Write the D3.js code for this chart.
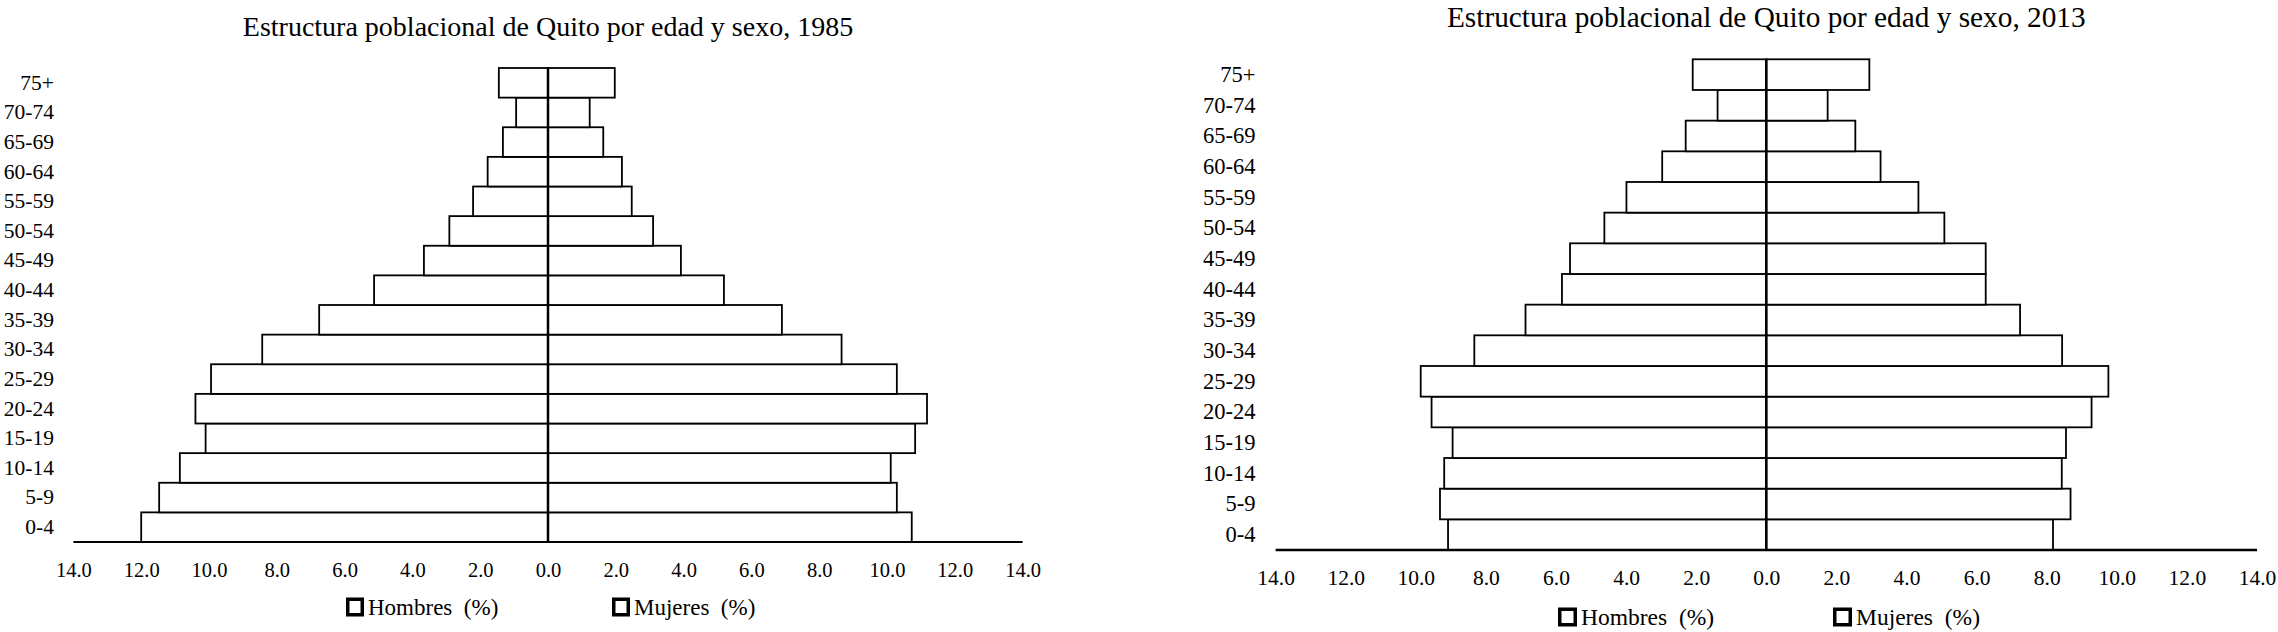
<!DOCTYPE html>
<html>
<head>
<meta charset="utf-8">
<script src="https://cdn.jsdelivr.net/npm/d3@7"></script>
<style>
  body { margin: 0; background: #fff; }
</style>
</head>
<body>
<svg class="pyramids"></svg>
<script>
// age groups, bottom to top
const ages = ["0-4","5-9","10-14","15-19","20-24","25-29","30-34","35-39",
              "40-44","45-49","50-54","55-59","60-64","65-69","70-74","75+"];

// percentages
const hombres1985 = [12.00, 11.47, 10.86, 10.10, 10.40, 9.94, 8.43, 6.75,
                     5.13, 3.66, 2.91, 2.21, 1.78, 1.33, 0.94, 1.45];
const mujeres1985 = [10.73, 10.29, 10.11, 10.83, 11.18, 10.29, 8.66, 6.90,
                     5.19, 3.92, 3.10, 2.47, 2.18, 1.63, 1.23, 1.97];
const hombres2013 = [9.08, 9.31, 9.19, 8.95, 9.55, 9.86, 8.33, 6.87,
                     5.83, 5.60, 4.62, 3.99, 2.97, 2.30, 1.39, 2.10];
const mujeres2013 = [8.18, 8.68, 8.43, 8.55, 9.28, 9.76, 8.44, 7.24,
                     6.26, 6.26, 5.08, 4.34, 3.26, 2.54, 1.75, 2.94];

const xTicks = [-14, -12, -10, -8, -6, -4, -2, 0, 2, 4, 6, 8, 10, 12, 14];
const legendLabels = ["Hombres  (%)", "Mujeres  (%)"];

const FONT = '"Liberation Serif", "DejaVu Serif", serif';

var svg = d3.select("svg.pyramids")
  .attr("width", 2278)
  .attr("height", 632)
  .style("background", "#fff");

function drawPyramid(cfg, title, men, women) {
  const g = svg.append("g");

  const x = d3.scaleLinear()
    .domain([-14, 14])
    .range([cfg.cx - 14 * cfg.unit, cfg.cx + 14 * cfg.unit]);

  const y = d3.scaleBand()
    .domain(ages.slice().reverse())
    .range([cfg.top, cfg.bottom])
    .paddingInner(0);

  const rows = ages.map((a, i) => ({age: a, h: men[i], m: women[i]}));

  g.append("text")
    .attr("x", cfg.cx)
    .attr("y", cfg.titleY)
    .attr("text-anchor", "middle")
    .style("font-family", FONT)
    .style("font-size", cfg.titleSize + "px")
    .text(title);

  // men to the left
  g.append("g").selectAll("rect")
    .data(rows)
    .join("rect")
      .attr("x", d => x(-d.h))
      .attr("y", d => y(d.age))
      .attr("width", d => x(0) - x(-d.h))
      .attr("height", y.bandwidth())
      .attr("fill", "#fff")
      .attr("stroke", "#000")
      .attr("stroke-width", cfg.barStroke);

  // women to the right
  g.append("g").selectAll("rect")
    .data(rows)
    .join("rect")
      .attr("x", x(0))
      .attr("y", d => y(d.age))
      .attr("width", d => x(d.m) - x(0))
      .attr("height", y.bandwidth())
      .attr("fill", "#fff")
      .attr("stroke", "#000")
      .attr("stroke-width", cfg.barStroke);

  // centre line
  g.append("line")
    .attr("x1", x(0)).attr("x2", x(0))
    .attr("y1", cfg.top).attr("y2", cfg.bottom)
    .attr("stroke", "#000")
    .attr("stroke-width", 2.5);

  // baseline
  g.append("line")
    .attr("x1", x(-14)).attr("x2", x(14))
    .attr("y1", cfg.bottom).attr("y2", cfg.bottom)
    .attr("stroke", "#000")
    .attr("stroke-width", cfg.baseStroke);

  // age labels
  const yAxis = g.append("g")
    .attr("transform", `translate(${cfg.labelRight},0)`)
    .call(d3.axisLeft(y).tickSize(0).tickPadding(0));
  yAxis.select(".domain").remove();
  yAxis.attr("font-family", null).attr("font-size", null);
  yAxis.selectAll("text")
    .style("font-family", FONT)
    .style("font-size", cfg.labelSize + "px");

  // value labels
  const xAxis = g.append("g")
    .attr("transform", `translate(0,${cfg.tickY})`)
    .call(d3.axisBottom(x)
      .tickValues(xTicks)
      .tickSize(0)
      .tickPadding(0)
      .tickFormat(d => d3.format(".1f")(Math.abs(d))));
  xAxis.select(".domain").remove();
  xAxis.attr("font-family", null).attr("font-size", null);
  xAxis.selectAll("text")
    .attr("dy", null)
    .style("font-family", FONT)
    .style("font-size", cfg.tickSize + "px");

  // legend
  const leg = g.append("g").selectAll("g")
    .data(legendLabels)
    .join("g")
      .attr("transform", (d, i) => `translate(${cfg.legendX[i]},${cfg.legendY})`);
  leg.append("rect")
    .attr("x", 1.75).attr("y", -cfg.boxH / 2 + 1.75)
    .attr("width", cfg.boxW - 3.5).attr("height", cfg.boxH - 3.5)
    .attr("fill", "#fff")
    .attr("stroke", "#000")
    .attr("stroke-width", 3.5);
  leg.append("text")
    .attr("x", cfg.boxW + 4)
    .attr("y", 0)
    .attr("dy", "0.35em")
    .style("font-family", FONT)
    .style("font-size", cfg.legendSize + "px")
    .style("white-space", "pre")
    .text(d => d);
}

drawPyramid({
  cx: 548, unit: 33.9, top: 68, bottom: 542,
  labelRight: 54, labelSize: 21.5,
  titleY: 36, titleSize: 28,
  tickY: 577, tickSize: 20.5,
  barStroke: 1.8, baseStroke: 2,
  legendX: [346, 612], legendY: 607, boxW: 18, boxH: 19, legendSize: 23
}, "Estructura poblacional de Quito por edad y sexo, 1985", hombres1985, mujeres1985);

drawPyramid({
  cx: 1766.3, unit: 35.05, top: 59.3, bottom: 550,
  labelRight: 1255.5, labelSize: 22.5,
  titleY: 27, titleSize: 29.3,
  tickY: 585, tickSize: 21.5,
  barStroke: 1.8, baseStroke: 2.5,
  legendX: [1558, 1833], legendY: 617, boxW: 19, boxH: 19, legendSize: 23.5
}, "Estructura poblacional de Quito por edad y sexo, 2013", hombres2013, mujeres2013);
</script>
</body>
</html>
